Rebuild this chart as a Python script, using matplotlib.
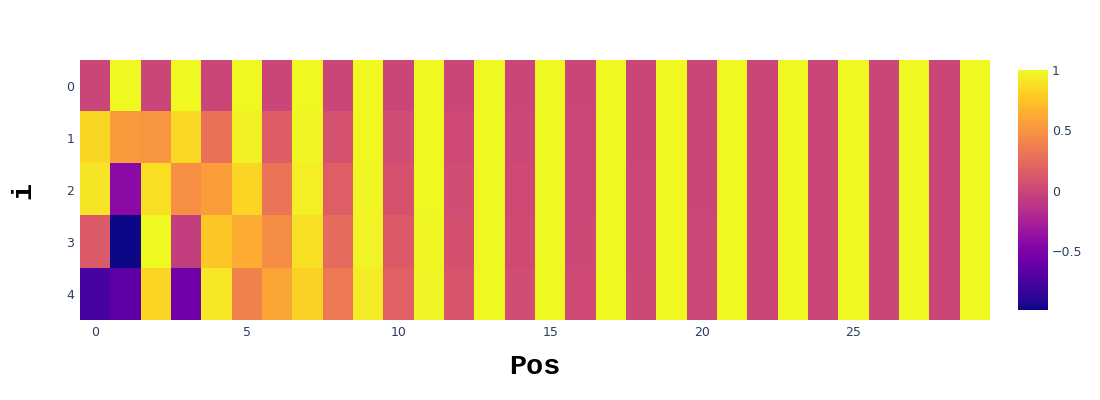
import numpy as np
import matplotlib.pyplot as plt

# values (rows i = 0..4, columns Pos = 0..29)
pos_labels = list(range(30))
i_labels = list(range(5))

row0 = [0.00, 1.00] * 15
row1 = [0.84, 0.54, 0.51, 0.86, 0.29, 0.96, 0.16, 0.99, 0.09, 1.00,
        0.05, 1.00, 0.03, 1.00, 0.01, 1.00, 0.01, 1.00, 0.00, 1.00,
        0.00, 1.00, 0.00, 1.00, 0.00, 1.00, 0.00, 1.00, 0.00, 1.00]
row2 = [0.91, -0.42, 0.88, 0.47, 0.55, 0.83, 0.31, 0.95, 0.17, 0.99,
        0.09, 1.00, 0.05, 1.00, 0.03, 1.00, 0.01, 1.00, 0.01, 1.00,
        0.00, 1.00, 0.00, 1.00, 0.00, 1.00, 0.00, 1.00, 0.00, 1.00]
row3 = [0.14, -0.99, 1.00, -0.05, 0.77, 0.64, 0.46, 0.89, 0.25, 0.97,
        0.14, 0.99, 0.08, 1.00, 0.04, 1.00, 0.02, 1.00, 0.01, 1.00,
        0.01, 1.00, 0.00, 1.00, 0.00, 1.00, 0.00, 1.00, 0.00, 1.00]
row4 = [-0.76, -0.65, 0.83, -0.56, 0.92, 0.39, 0.59, 0.81, 0.34, 0.94,
        0.19, 0.98, 0.10, 1.00, 0.05, 1.00, 0.03, 1.00, 0.02, 1.00,
        0.01, 1.00, 0.00, 1.00, 0.00, 1.00, 0.00, 1.00, 0.00, 1.00]

z = np.array([row0, row1, row2, row3, row4])

tick_col = "#2a3f5f"

fig = plt.figure(figsize=(11, 4), dpi=100)
ax = fig.add_axes([80/1100, 80/400, 910/1100, 260/400])
cax = fig.add_axes([1018/1100, 90/400, 30/1100, 240/400])

im = ax.imshow(z, cmap="plasma", aspect="auto", interpolation="nearest",
               vmin=z.min(), vmax=z.max(),
               extent=(-0.5, 29.5, 4.5, -0.5))

ax.set_xticks(range(0, 30, 5))
ax.set_yticks(i_labels)
ax.tick_params(length=0, labelsize=9, labelcolor=tick_col, pad=4)
for s in ax.spines.values():
    s.set_visible(False)

ax.set_xlabel("Pos", family="Liberation Mono", fontsize=20.5, fontweight="bold", labelpad=11)
ax.set_ylabel("i", family="Liberation Mono", fontsize=20.5, fontweight="bold", labelpad=22)

cb = fig.colorbar(im, cax=cax)
cb.set_ticks([-0.5, 0, 0.5, 1])
cb.set_ticklabels(["\u22120.5", "0", "0.5", "1"])
cb.outline.set_visible(False)
cax.tick_params(length=0, labelsize=9, labelcolor=tick_col, pad=3)

fig.savefig("out.png", dpi=100)
